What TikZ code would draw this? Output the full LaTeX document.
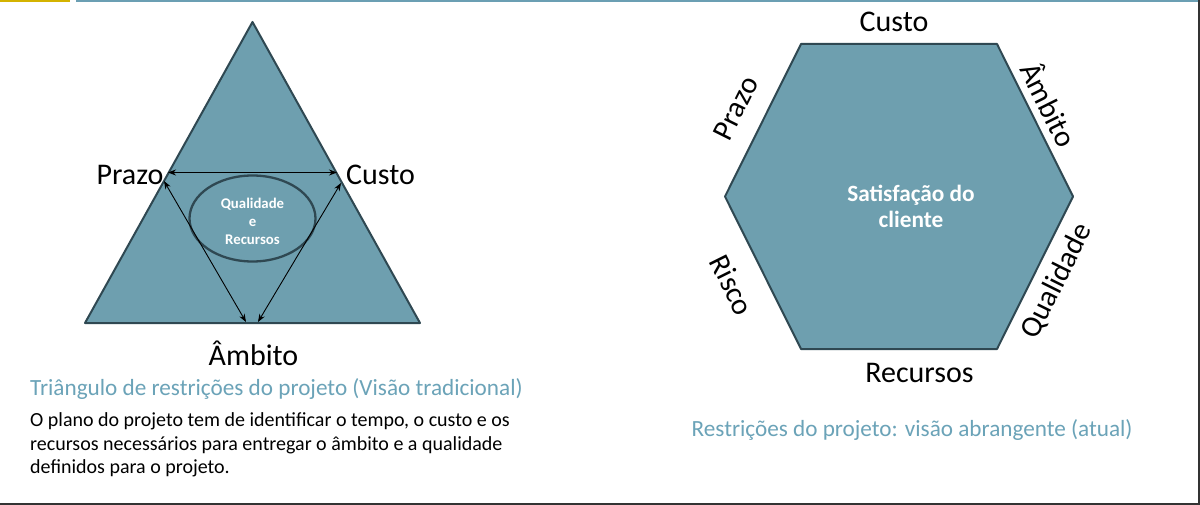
\documentclass[tikz,border=0pt]{standalone}
\usepackage{fontspec}
\setmainfont{Carlito}
\usetikzlibrary{arrows.meta,shapes.geometric}
\definecolor{shapefill}{HTML}{6E9FAF}
\definecolor{shapeline}{HTML}{2F4852}
\definecolor{captc}{HTML}{6BA3B8}
\definecolor{topteal}{HTML}{6B9FB3}
\definecolor{topyel}{HTML}{D4B300}
\definecolor{framec}{HTML}{333333}
\tikzset{
  figshape/.style={fill=shapefill, draw=shapeline, line width=2pt, line join=round},
  bigl/.style={font=\fontsize{30}{36}\selectfont, inner sep=0pt, text=black},
  innerw/.style={font=\bfseries\fontsize{14.8}{18}\selectfont, text=white, align=center, inner sep=0pt},
  satw/.style={font=\bfseries\fontsize{23.3}{26}\selectfont, text=white, inner sep=0pt},
  capt/.style={font=\fontsize{23.2}{27}\selectfont, text=captc, inner sep=0pt, anchor=base west},
  bodyt/.style={font=\fontsize{20}{23}\selectfont, text=black, inner sep=0pt, anchor=base west},
  dbl/.style={{Stealth[length=8pt,width=6pt]}-{Stealth[length=8pt,width=6pt]}, line width=0.9pt, black}
}
\begin{document}
\begin{tikzpicture}[x=1pt,y=-1pt]
\useasboundingbox (0,0) rectangle (1200,505);
\fill[white] (0,0) rectangle (1200,505);
% top lines and frame
\fill[topyel] (0,0) rectangle (70,1.6);
\fill[topteal] (76,0) rectangle (1200,1.6);
\fill[framec] (1197.6,0) rectangle (1200,505);
\fill[framec] (0,502.6) rectangle (1200,505);

% ---------- triangle ----------
\coordinate (tA) at (252.5,22);
\coordinate (tL) at (85,323);
\coordinate (tR) at (420,323);
\draw[figshape] (tA) -- (tR) -- (tL) -- cycle;
\node[ellipse, draw=shapeline, line width=2.3pt, minimum width=126, minimum height=86, inner sep=0pt] (ell) at (252.5,218.5) {};
\node[innerw] (qer) at (252.5,221) {Qualidade\\e\\Recursos};

\coordinate (p1) at (168,172.5);
\coordinate (c1) at (337,172.5);
\coordinate (p2) at (164,181);
\coordinate (b1) at (246,322);
\coordinate (c2) at (341,183);
\coordinate (b2) at (258,322);
\draw[dbl] (p1) -- (c1);
\draw[dbl] (p2) -- (b1);
\draw[dbl] (c2) -- (b2);

\node[bigl, anchor=base east] (prazoT) at (163.5,185) {Prazo};
\node[bigl, anchor=base west] (custoT) at (346,185) {Custo};
\node[bigl, anchor=base] (ambitoT) at (253.5,365.5) {Âmbito};

\node[capt] (capL) at (30,395) {Triângulo de restrições do projeto (Visão tradicional)};
\node[bodyt] (body1) at (30,426.5) {O plano do projeto tem de identificar o tempo, o custo e os};
\node[bodyt] (body2) at (30,450) {recursos necessários para entregar o âmbito e a qualidade};
\node[bodyt] (body3) at (30,473.5) {definidos para o projeto.};

% ---------- hexagon ----------
\coordinate (h1) at (801,44);
\coordinate (h2) at (997,44);
\coordinate (h3) at (1073,196.5);
\coordinate (h4) at (997,349);
\coordinate (h5) at (801,349);
\coordinate (h6) at (725,196.5);
\draw[figshape] (h1) -- (h2) -- (h3) -- (h4) -- (h5) -- (h6) -- cycle;

\node[satw, anchor=base] (sat1) at (911,202) {Satisfação do};
\node[satw, anchor=base] (sat2) at (911,228) {cliente};

\node[bigl, anchor=base] (custoH) at (894,32) {Custo};
\node[bigl, anchor=base] (recH) at (919.5,382) {Recursos};
\node[bigl, rotate=63.5] (prazoH) at (736,108) {Prazo};
\node[bigl, rotate=-63.5] (ambitoH) at (1050,104) {Âmbito};
\node[bigl, rotate=-63.5] (riscoH) at (732,285) {Risco};
\node[bigl, rotate=63.5] (qualH) at (1057,281) {Qualidade};

\node[capt] (capR) at (691.5,436.5) {Restrições do projeto: visão abrangente (atual)};
\end{tikzpicture}
\end{document}
